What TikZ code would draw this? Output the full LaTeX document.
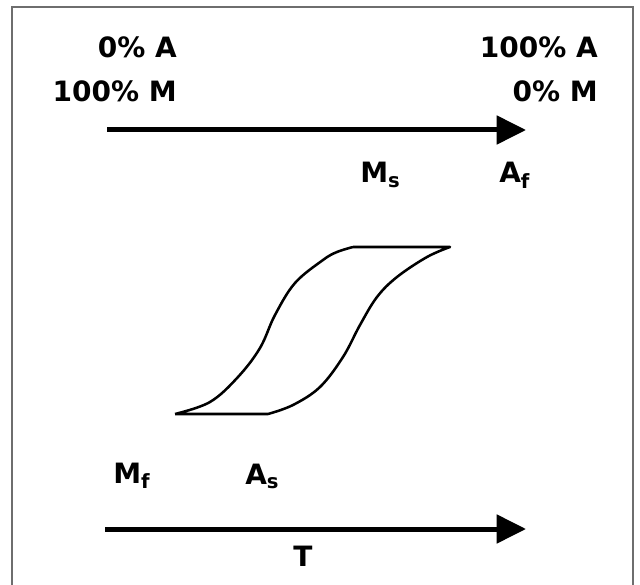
\documentclass[tikz,border=0pt]{standalone}
\usepackage{fontspec}
\setmainfont{DejaVu Sans}
\usepackage{xcolor}
\usetikzlibrary{arrows.meta}
\usetikzlibrary{positioning}

\definecolor{framegray}{RGB}{110,110,110}

\tikzset{
    lbl/.style={inner sep=0pt, font=\fontsize{21}{25}\selectfont\bfseries},
    bigarrow/.style={line width=3.75pt, -{Triangle[length=22pt, width=21pt]}},
    loopline/.style={line width=1.9pt, line join=round}
}

\begin{document}
\begin{tikzpicture}[x=0.75pt, y=-0.75pt]
    \useasboundingbox (0,0) rectangle (640,585);

    % frame, open at the bottom
    \draw[framegray, line width=1.1pt] (12,585) -- (12,7) -- (633,7) -- (633,585);

    % top axis
    \node[lbl, anchor=base east] (topA) at (177,58)  {0\% A};
    \node[lbl, anchor=base east] (topM) at (177,102) {100\% M};
    \node[lbl, anchor=base east] (endA) at (598,58)  {100\% A};
    \node[lbl, anchor=base east] (endM) at (598,102) {0\% M};

    \coordinate (t0) at (107,130);
    \coordinate (t1) at (526,130);
    \draw[bigarrow] (t0) -- (t1);

    \node[lbl, anchor=base west] (Ms) at (360,183) {M\textsubscript{s}};
    \node[lbl, anchor=base west] (Af) at (499,183) {A\textsubscript{f}};

    % hysteresis loop
    \coordinate (bl) at (175,414);
    \coordinate (br) at (268,414);
    \coordinate (tl) at (353,247);
    \coordinate (tr) at (450,247);

    \draw[loopline] (bl) -- (br)
        plot[smooth, tension=0.6] coordinates {(268,414) (293,405) (320,387) (343,357) (360,325) (377,297) (397,277) (427,257) (450,247)}
        -- (tl)
        plot[smooth, tension=0.6] coordinates {(353,247) (337,252) (323,260) (295,283) (275,315) (260,348) (238,377) (210,402) (175,414)};

    % bottom axis
    \node[lbl, anchor=base west] (Mf) at (113,483) {M\textsubscript{f}};
    \node[lbl, anchor=base west] (As) at (245,484) {A\textsubscript{s}};

    \coordinate (b0) at (105,529);
    \coordinate (b1) at (526,529);
    \draw[bigarrow] (b0) -- (b1);

    \node[lbl, anchor=base] (T) at (303,566) {T};
\end{tikzpicture}
\end{document}
